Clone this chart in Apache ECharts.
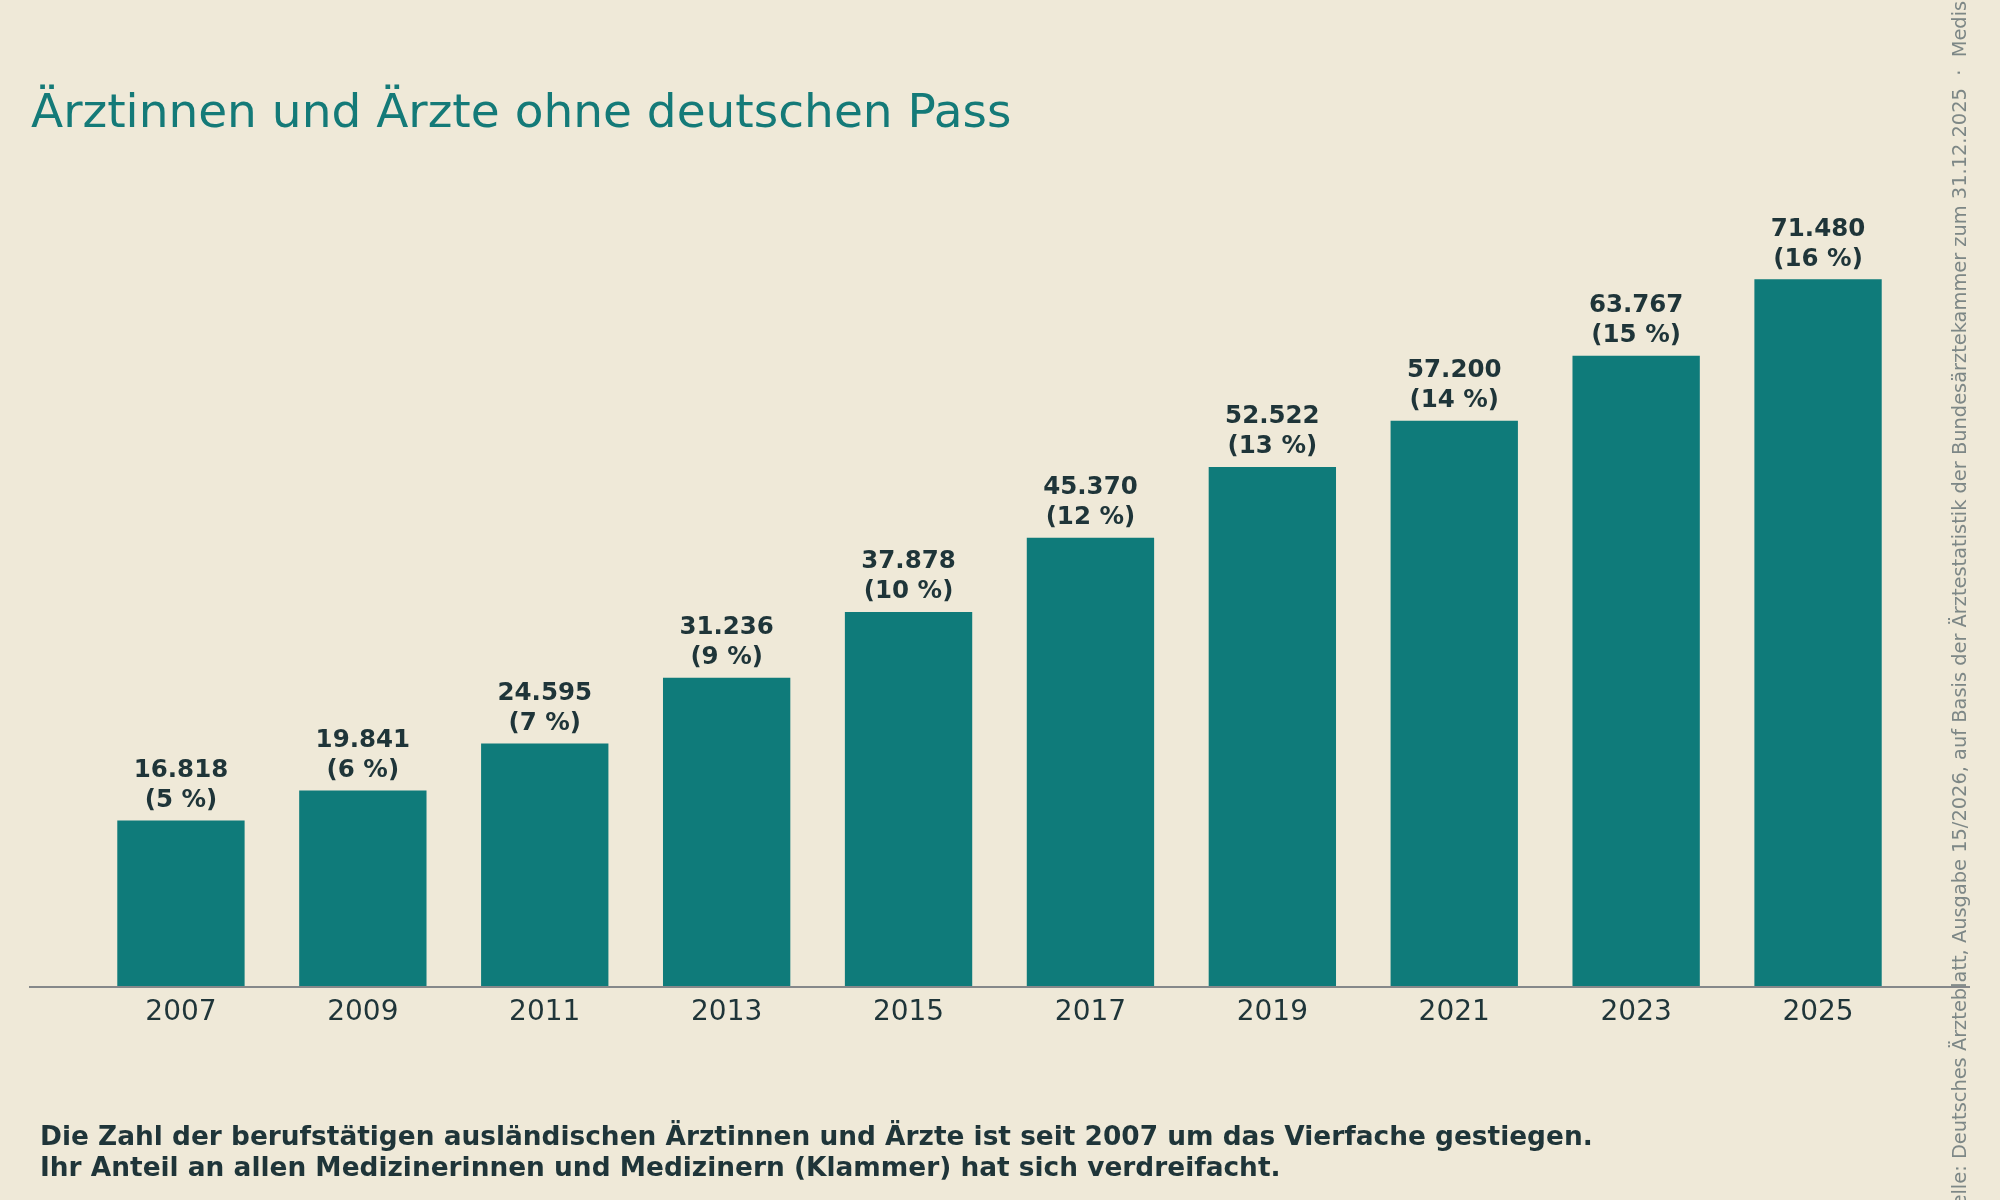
<!DOCTYPE html>
<html>
<head>
<meta charset="utf-8">
<script src="https://cdn.jsdelivr.net/npm/echarts@6/dist/echarts.min.js"></script>
<style>
  html, body { margin: 0; padding: 0; background: #efe9d8; }
  #chart { width: 2000px; height: 1200px; }
</style>
</head>
<body>
<div id="chart"></div>
<script>
// Berufstätige Ärztinnen und Ärzte ohne deutschen Pass
const years = ['2007', '2009', '2011', '2013', '2015', '2017', '2019', '2021', '2023', '2025'];
const doctors = [16818, 19841, 24595, 31236, 37878, 45370, 52522, 57200, 63767, 71480];
const sharePct = [5, 6, 7, 9, 10, 12, 13, 14, 15, 16];

const titleText = 'Ärztinnen und Ärzte ohne deutschen Pass';
const noteLines = [
  'Die Zahl der berufstätigen ausländischen Ärztinnen und Ärzte ist seit 2007 um das Vierfache gestiegen.',
  'Ihr Anteil an allen Medizinerinnen und Medizinern (Klammer) hat sich verdreifacht.'
];
const sourceText = 'Quelle: Deutsches Ärzteblatt, Ausgabe 15/2026, auf Basis der Ärztestatistik der Bundesärztekammer zum 31.12.2025  ·  Medis';

const FONT = '"DejaVu Sans", sans-serif';
const dark = '#1f3539';
const teal = '#0f7b7a';

const fmt = v => String(v).replace(/\B(?=(\d{3})+(?!\d))/g, '.');

const chart = echarts.init(document.getElementById('chart'));
chart.setOption({
  backgroundColor: '#efe9d8',
  animation: false,
  textStyle: { fontFamily: FONT },
  title: {
    text: titleText,
    left: 26,
    top: 86,
    textStyle: { fontFamily: FONT, fontSize: 47, fontWeight: 'normal', color: '#147a78' }
  },
  grid: { left: 90, right: 91, top: 195, bottom: 213 },
  xAxis: {
    type: 'category',
    data: years,
    axisLine: { show: false },
    axisTick: { show: false },
    axisLabel: { fontSize: 28, color: dark, margin: 12, fontFamily: FONT }
  },
  yAxis: {
    type: 'value',
    min: 0,
    max: 80000,
    show: false
  },
  series: [{
    type: 'bar',
    data: doctors,
    barCategoryGap: '30%',
    itemStyle: { color: teal },
    label: {
      show: true,
      position: 'top',
      distance: 5,
      fontFamily: FONT,
      fontSize: 24.5,
      fontWeight: 'bold',
      lineHeight: 30,
      color: dark,
      formatter: p => fmt(p.value) + '\n(' + sharePct[p.dataIndex] + ' %)'
    }
  }],
  graphic: [
    {
      type: 'line',
      shape: { x1: 29, y1: 987, x2: 1970, y2: 987 },
      style: { stroke: '#85888a', lineWidth: 2 },
      z: 10
    },
    {
      type: 'text',
      left: 40,
      top: 1123,
      style: {
        text: noteLines.join('\n'),
        font: 'bold 26.4px ' + FONT,
        lineHeight: 31,
        fill: dark
      }
    },
    {
      type: 'text',
      x: 1961,
      y: 1234,
      rotation: Math.PI / 2,
      style: {
        text: sourceText,
        font: '19.4px ' + FONT,
        fill: '#7d8786',
        textAlign: 'left',
        textVerticalAlign: 'middle'
      },
      z: 20
    }
  ]
});
</script>
</body>
</html>
